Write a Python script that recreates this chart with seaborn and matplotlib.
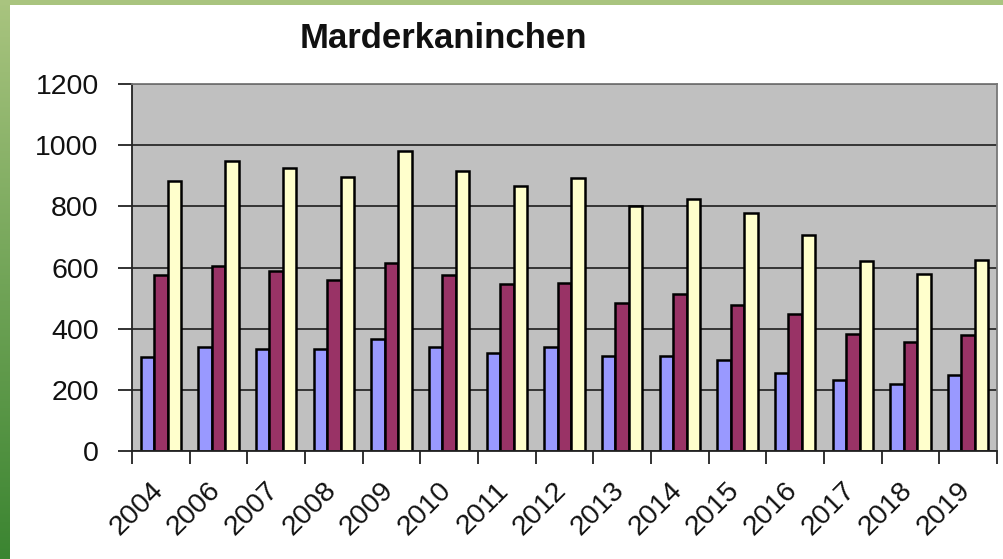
import numpy as np
import pandas as pd
import seaborn as sns
import matplotlib.pyplot as plt
import matplotlib.transforms as mtransforms

# Werte
jahre = ['2004', '2006', '2007', '2008', '2009', '2010', '2011', '2012',
         '2013', '2014', '2015', '2016', '2017', '2018', '2019']
reihe1 = [308, 339, 334, 334, 367, 339, 321, 339, 312, 312, 298, 256, 233, 219, 247]
reihe2 = [577, 604, 588, 560, 615, 577, 545, 550, 485, 514, 476, 448, 384, 358, 380]
reihe3 = [883, 949, 925, 897, 981, 916, 868, 893, 802, 825, 778, 707, 622, 580, 626]
serien = ['Reihe 1', 'Reihe 2', 'Reihe 3']
farben = ['#9999ff', '#993366', '#ffffcc']

df = pd.DataFrame({'Jahr': jahre * 3,
                   'Anzahl': reihe1 + reihe2 + reihe3,
                   'Serie': [s for s in serien for _ in jahre]})

sns.set_style('white')
plt.rcParams['font.family'] = ['Liberation Sans', 'DejaVu Sans']

W, H = 1004, 559
fig = plt.figure(figsize=(W / 100, H / 100), dpi=100)
fig.patch.set_facecolor('white')

# gruener Rahmen links (Verlauf) und oben
rand = fig.add_axes([0, 0, 10 / W, 1])
verlauf = np.linspace(0, 1, 256)[:, None, None]
oben = np.array([169, 196, 127]) / 255
unten = np.array([59, 133, 49]) / 255
rand.imshow(oben + (unten - oben) * verlauf, aspect='auto', extent=[0, 1, 0, 1])
rand.axis('off')
kopf = fig.add_axes([0, 1 - 5 / H, 1, 5 / H])
kopf.set_facecolor(oben)
kopf.set_xticks([])
kopf.set_yticks([])
for s in kopf.spines.values():
    s.set_visible(False)

ax = fig.add_axes([132 / W, (H - 451) / H, 865 / W, 367 / H])
ax.set_facecolor('#c0c0c0')
sns.barplot(data=df, x='Jahr', y='Anzahl', hue='Serie', palette=farben,
            width=0.7, edgecolor='black', linewidth=1.8, saturation=1,
            legend=False, ax=ax)

ax.set_ylim(0, 1200)
ax.set_xlim(-0.5, len(jahre) - 0.5)
ax.set_yticks(range(0, 1201, 200))
ax.yaxis.grid(True, color='#2a2a2a', linewidth=1.3)
ax.set_axisbelow(True)
ax.set_xlabel('')
ax.set_ylabel('')

for s in ['left', 'bottom']:
    ax.spines[s].set_color('#222222')
    ax.spines[s].set_linewidth(1.3)
for s in ['top', 'right']:
    ax.spines[s].set_color('#777777')
    ax.spines[s].set_linewidth(1.3)

ax.tick_params(axis='y', length=10, width=1.3, color='#222222', pad=14,
               labelsize=20.5, labelcolor='#111111', left=True)
ax.tick_params(axis='x', which='major', length=0, pad=19,
               labelsize=20.5, labelcolor='#111111')
ax.set_xticks(np.arange(-0.5, len(jahre), 1), minor=True)
ax.tick_params(axis='x', which='minor', length=9, width=1.3, color='#222222',
               bottom=True)

versatz = mtransforms.ScaledTranslation(-11 / 100, 0, fig.dpi_scale_trans)
for lab in ax.get_xticklabels():
    lab.set_rotation(45)
    lab.set_ha('right')
    lab.set_rotation_mode('anchor')
    lab.set_transform(lab.get_transform() + versatz)

fig.text(443 / W, 1 - 48 / H, 'Marderkaninchen', ha='center', va='baseline',
         fontsize=25, fontweight='bold', color='#111111')

fig.savefig('out.png', dpi=100)
